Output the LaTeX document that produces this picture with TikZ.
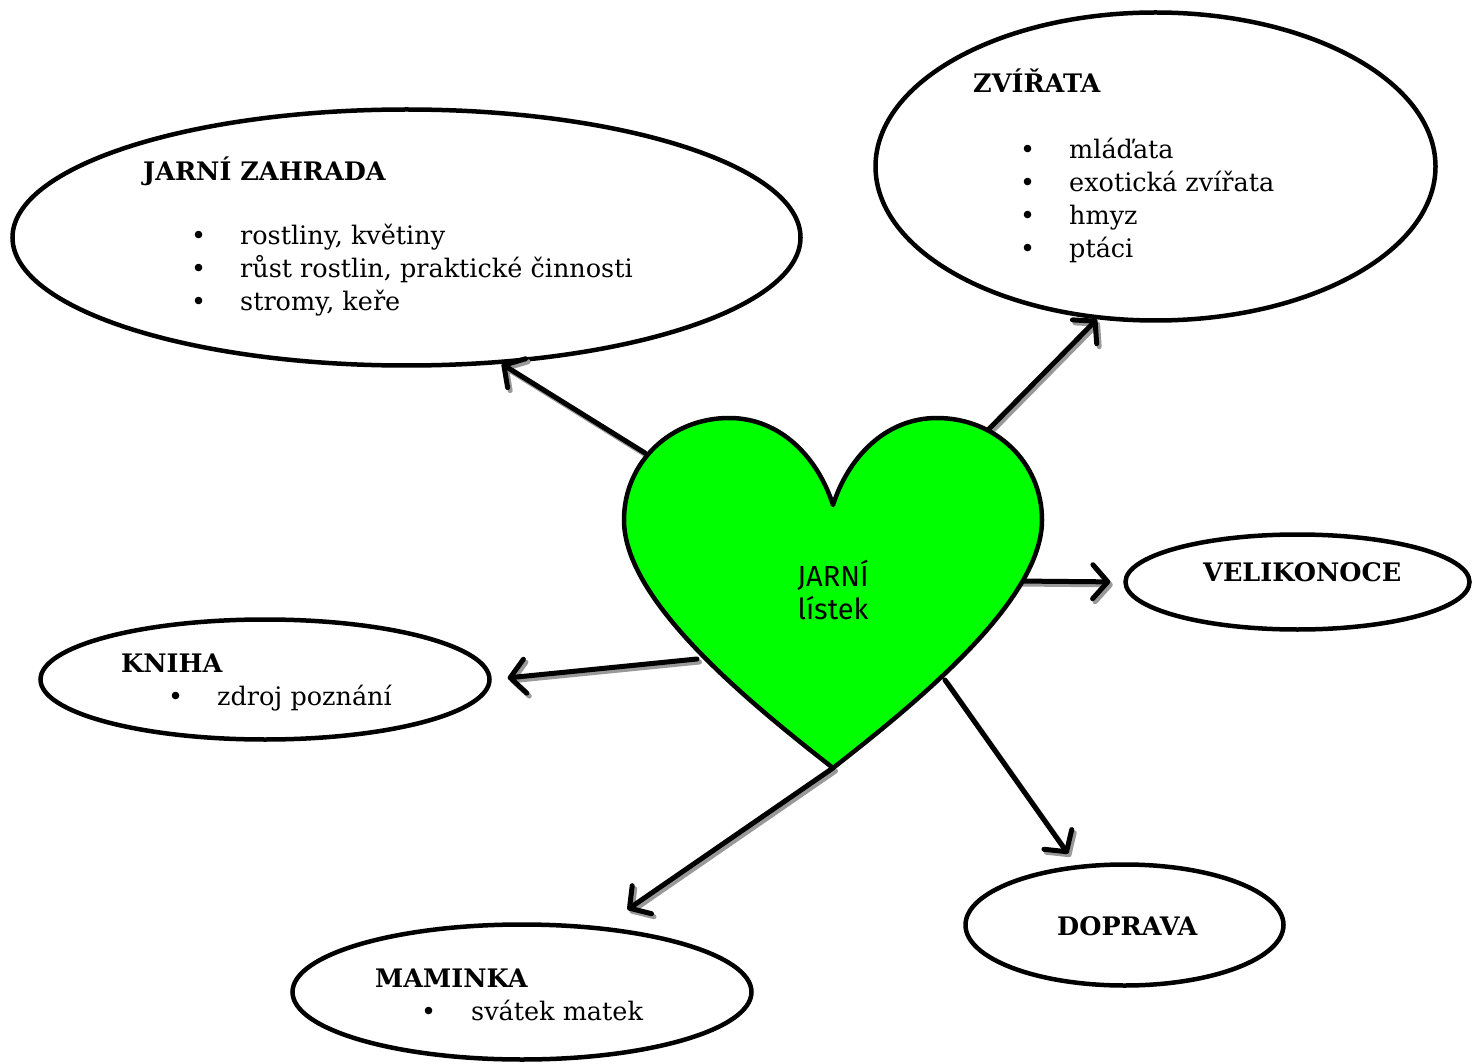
\documentclass[tikz,border=0pt]{standalone}
\usepackage{fontspec}
\setmainfont{DejaVu Serif}
\newfontfamily\handfont{Fira Sans}
\usetikzlibrary{shapes.geometric,arrows.meta}
\begin{document}
\begin{tikzpicture}[x=1pt,y=1pt,
  bubble/.style={draw,ellipse,line width=4.5pt,inner sep=0pt,fill=white},
  ttl/.style={anchor=base west,inner sep=0pt,font=\fontsize{25.5}{33}\selectfont\bfseries},
  itm/.style={anchor=base west,inner sep=0pt,font=\fontsize{25.5}{33}\selectfont},
  arr/.style={line width=5pt,line cap=round,-{Straight Barb[length=15pt,width=34pt,line cap=round,line join=round]}},
  heartstyle/.style={draw,line width=4.5pt,fill={rgb,255:red,0;green,255;blue,0},line join=round},
]
\useasboundingbox (0,0) rectangle (1483,-1064);

% ellipses
\node[bubble,minimum width=788pt,minimum height=256pt] (zahrada) at (406.5,-237.5) {};
\node[bubble,minimum width=560pt,minimum height=308pt] (zvirata) at (1155.5,-166.5) {};
\node[bubble,minimum width=344pt,minimum height=95pt] (velik) at (1297.5,-582) {};
\node[bubble,minimum width=449pt,minimum height=120pt] (kniha) at (265,-679.5) {};
\node[bubble,minimum width=318pt,minimum height=121pt] (doprava) at (1124.5,-925) {};
\node[bubble,minimum width=459pt,minimum height=135pt] (maminka) at (522,-992) {};

% heart start points
\coordinate (h1) at (645,-453);
\coordinate (h2) at (985,-433);
\coordinate (h3) at (1015,-581);
\coordinate (h4) at (697,-659);
\coordinate (h5) at (833,-768);
\coordinate (h6) at (945,-680);

\def\arrowlist{h1/zahrada.-53/0pt, h2/zvirata.-111/0pt, h3/velik.180/13pt, h4/kniha.0/16pt, h5/maminka.39/30pt, h6/doprava.129/14pt}
\begin{scope}[transform canvas={shift={(2.5pt,-3pt)}}]
  \foreach \a/\b/\c in \arrowlist {\draw[arr,draw=black!40,shorten >=\c] (\a) -- (\b);}
\end{scope}
\foreach \a/\b/\c in \arrowlist {\draw[arr,shorten >=\c] (\a) -- (\b);}

% heart
\draw[heartstyle] (833,-505)
  .. controls (848,-458) and (885,-418) .. (937,-418)
  .. controls (995,-418) and (1042,-462) .. (1042,-520)
  .. controls (1042,-600) and (920,-700) .. (833,-768)
  .. controls (746,-700) and (624,-600) .. (624,-520)
  .. controls (624,-462) and (671,-418) .. (729,-418)
  .. controls (781,-418) and (818,-458) .. (833,-505) -- cycle;
\node[font=\handfont\fontsize{29}{33}\selectfont,align=center,inner sep=0pt] (ht) at (833,-590) {JARNÍ\\lístek};

% texts
\node[ttl] (tz) at (143,-181) {JARNÍ ZAHRADA};
\node[itm] (z1) at (191,-245) {\makebox[49pt][l]{•}rostliny, květiny};
\node[itm] (z2) at (191,-278) {\makebox[49pt][l]{•}růst rostlin, praktické činnosti};
\node[itm] (z3) at (191,-311) {\makebox[49pt][l]{•}stromy, keře};

\node[ttl] (tv) at (973,-93) {ZVÍŘATA};
\node[itm] (v1) at (1020,-159) {\makebox[49pt][l]{•}mláďata};
\node[itm] (v2) at (1020,-192) {\makebox[49pt][l]{•}exotická zvířata};
\node[itm] (v3) at (1020,-225) {\makebox[49pt][l]{•}hmyz};
\node[itm] (v4) at (1020,-258) {\makebox[49pt][l]{•}ptáci};

\node[ttl] (tvel) at (1203,-581) {VELIKONOCE};

\node[ttl] (tk) at (121,-672) {KNIHA};
\node[itm] (k1) at (168,-705) {\makebox[49pt][l]{•}zdroj poznání};

\node[ttl] (td) at (1057,-935) {DOPRAVA};

\node[ttl] (tm) at (375,-987) {MAMINKA};
\node[itm] (m1) at (421,-1020) {\makebox[50pt][l]{•}svátek matek};
\end{tikzpicture}
\end{document}
